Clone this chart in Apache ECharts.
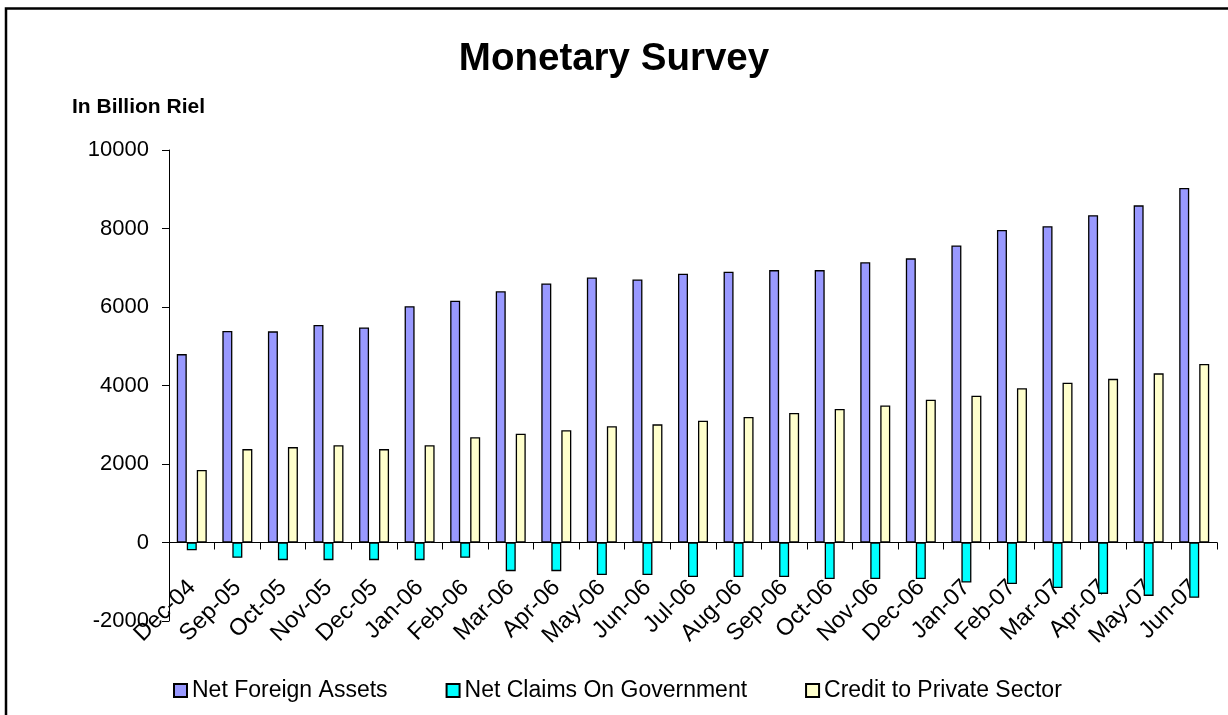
<!DOCTYPE html>
<html>
<head>
<meta charset="utf-8">
<script src="https://cdn.jsdelivr.net/npm/echarts@6/dist/echarts.min.js"></script>
<style>
html,body{margin:0;padding:0;background:#fff;}
#chart{width:1228px;height:715px;}
</style>
</head>
<body>
<div id="chart"></div>
<script>
const categories = ['Dec-04','Sep-05','Oct-05','Nov-05','Dec-05','Jan-06','Feb-06','Mar-06','Apr-06','May-06','Jun-06','Jul-06','Aug-06','Sep-06','Oct-06','Nov-06','Dec-06','Jan-07','Feb-07','Mar-07','Apr-07','May-07','Jun-07'];
const netForeignAssets = [4800,5390,5380,5540,5480,6020,6160,6400,6600,6750,6700,6850,6900,6940,6940,7140,7240,7570,7960,8060,8340,8590,9030];
const netClaimsOnGovernment = [-200,-390,-450,-450,-450,-450,-390,-730,-730,-830,-830,-880,-880,-880,-930,-930,-930,-1020,-1060,-1160,-1310,-1360,-1410];
const creditToPrivateSector = [1850,2380,2430,2480,2380,2480,2680,2770,2860,2960,3010,3100,3200,3300,3400,3490,3640,3740,3930,4070,4170,4310,4550];
const seriesNames = ['Net Foreign Assets','Net Claims On Government','Credit to Private Sector'];
const yMin = -2000, yMax = 10000, yStep = 2000;

const FONT = "'Liberation Sans', Arial, Helvetica, sans-serif";
const chart = echarts.init(document.getElementById('chart'), null, {renderer:'canvas'});
const barStyle = (c) => ({color:c, borderColor:'#000', borderWidth:1.3});
chart.setOption({
  animation:false,
  backgroundColor:'#fff',
  graphic:[{type:'rect', shape:{x:6, y:8.5, width:1400, height:1000}, style:{fill:'none', stroke:'#000', lineWidth:2.5}, silent:true}],
  title:[
    {text:'Monetary Survey', left:'center', top:35, textStyle:{fontFamily:FONT, fontSize:38.5, fontWeight:'bold', color:'#000'}},
    {text:'In Billion Riel', left:67, top:92, textStyle:{fontFamily:FONT, fontSize:21, fontWeight:'bold', color:'#000'}}
  ],
  legend:{
    data:seriesNames, left:173, top:679, padding:0, itemWidth:13, itemHeight:13, itemGap:58,
    icon:'rect',
    textStyle:{fontFamily:FONT, fontSize:23, color:'#000'}
  },
  grid:{left:169, right:11, top:150, bottom:94, containLabel:false, outerBoundsMode:'none'},
  xAxis:{
    type:'category', data:categories,
    axisLine:{onZero:true, lineStyle:{color:'#000', width:1}},
    axisTick:{show:true, length:7, inside:false, lineStyle:{color:'#000'}},
    axisLabel:{rotate:45, margin:-37, interval:0, fontFamily:FONT, fontSize:23.5, color:'#000'},
    splitLine:{show:false}
  },
  yAxis:{
    type:'value', min:yMin, max:yMax, interval:yStep,
    axisLine:{show:true, lineStyle:{color:'#000', width:1}},
    axisTick:{show:true, length:7, lineStyle:{color:'#000'}},
    axisLabel:{margin:20, fontFamily:FONT, fontSize:22, color:'#000', formatter:(v)=>String(v)},
    splitLine:{show:false}
  },
  series:[
    {name:seriesNames[0], type:'bar', data:netForeignAssets, barWidth:10, barGap:'0%', itemStyle:barStyle('#9999FF')},
    {name:seriesNames[1], type:'bar', data:netClaimsOnGovernment, barWidth:10, barGap:'0%', itemStyle:barStyle('#00FFFF')},
    {name:seriesNames[2], type:'bar', data:creditToPrivateSector, barWidth:10, barGap:'0%', itemStyle:barStyle('#FFFFCC')}
  ]
});
</script>
</body>
</html>
